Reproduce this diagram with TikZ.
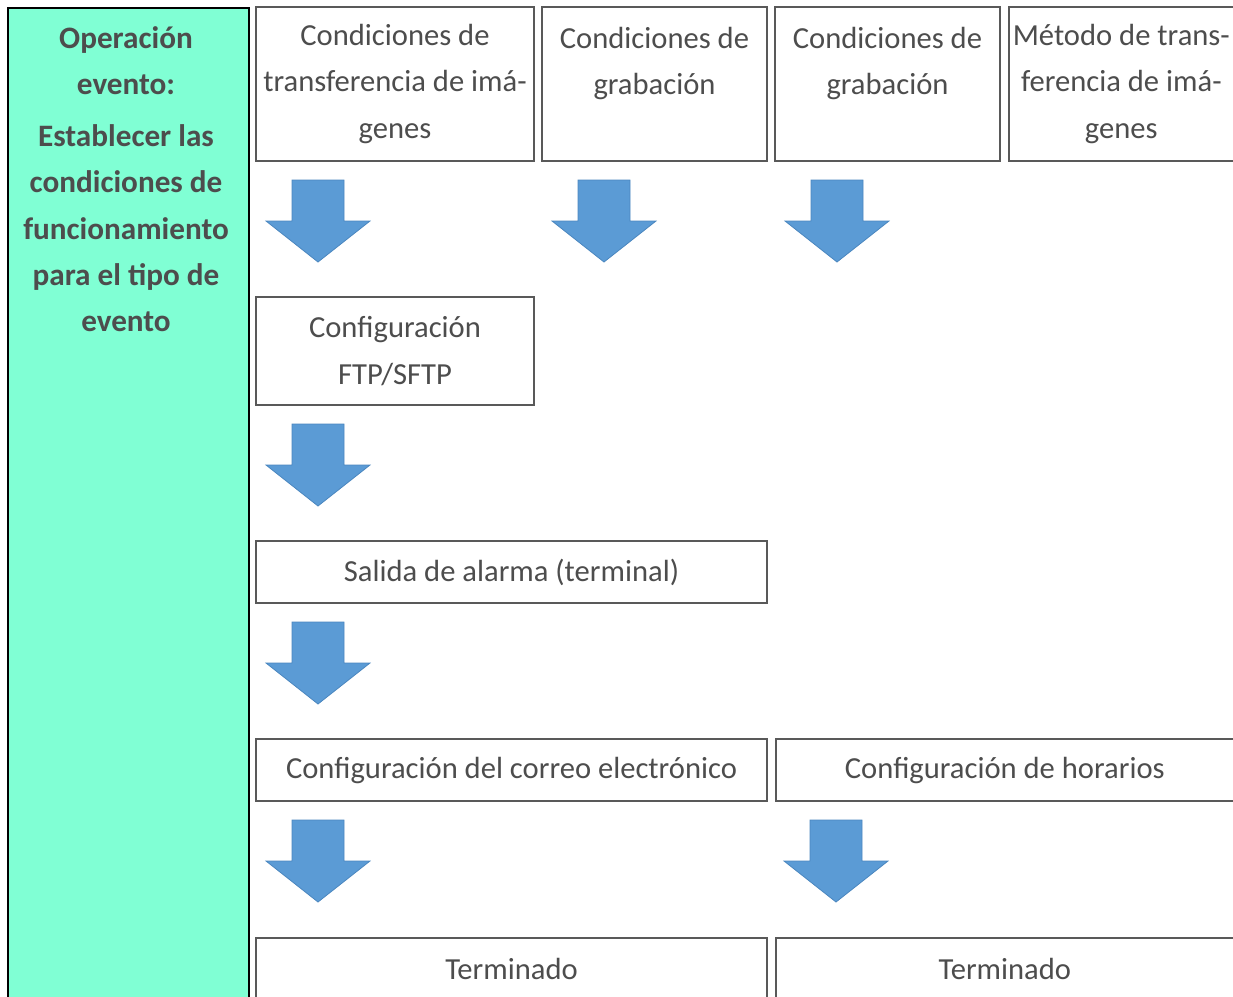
\documentclass[tikz,border=0pt]{standalone}
\usepackage{fontspec}
\setmainfont{Carlito}
\definecolor{txt}{HTML}{4D4D4D}
\definecolor{bord}{HTML}{595959}
\definecolor{aqua}{HTML}{80FFD4}
\definecolor{arr}{HTML}{5B9BD5}
\definecolor{arrb}{HTML}{4A86BF}
\tikzset{
  box/.style={draw=bord, line width=1.6pt, fill=white, text=txt, align=center, inner sep=0pt,
    font=\fontsize{30.6}{46.5}\selectfont},
  lbox/.style={draw=black, line width=2pt, fill=aqua, inner sep=0pt},
  ltext/.style={text=txt, align=center, inner sep=0pt, font=\bfseries\fontsize{31.2}{46.3}\selectfont},
  downarrow/.pic={\fill[arr, draw=arrb, line width=0.8pt] (-26,0) -- (26,0) -- (26,41) -- (52,41) -- (0,82) -- (-52,41) -- (-26,41) -- cycle;}
}
\begin{document}
\begin{tikzpicture}[x=1pt,y=-1pt]
\useasboundingbox (0,0) rectangle (1233,996);
\node[lbox, minimum width=241, minimum height=1020, anchor=north west] (lb) at (7,7) {};
\node[ltext, anchor=north] (lt) at (126,26) {Operación\\evento:\\[6pt]Establecer las\\condiciones de\\funcionamiento\\para el tipo de\\evento};
% top row
\node[box, minimum width=278, minimum height=154] (b1) at (395,84) {Condiciones de\\transferencia de imá-\\genes};
\node[box, minimum width=225, minimum height=154] (b2) at (654.5,84) {Condiciones de\\grabación\\\phantom{x}};
\node[box, minimum width=225, minimum height=154] (b3) at (887.5,84) {Condiciones de\\grabación\\\phantom{x}};
\node[box, minimum width=225, minimum height=154, anchor=west] (b4) at (1008,84) {Método de trans-\\ferencia de imá-\\genes};
\pic at (318,180) {downarrow};
\pic at (604,180) {downarrow};
\pic at (837,180) {downarrow};
\node[box, minimum width=278, minimum height=108] (ftp) at (395,351) {Configuración\\FTP/SFTP};
\pic at (318,424) {downarrow};
\node[box, minimum width=511, minimum height=62] (sal) at (511.5,572) {Salida de alarma (terminal)};
\pic at (318,622) {downarrow};
\node[box, minimum width=511, minimum height=62] (mail) at (511.5,770) {Configuración del correo electrónico};
\node[box, minimum width=458, minimum height=62, anchor=west] (hor) at (775,770) {Configuración de horarios};
\pic at (318,820) {downarrow};
\pic at (836,820) {downarrow};
\node[box, minimum width=511, minimum height=62, anchor=north] (t1) at (511.5,937) {Terminado};
\node[box, minimum width=458, minimum height=62, anchor=north west] (t2) at (775,937) {Terminado};
\end{tikzpicture}
\end{document}
